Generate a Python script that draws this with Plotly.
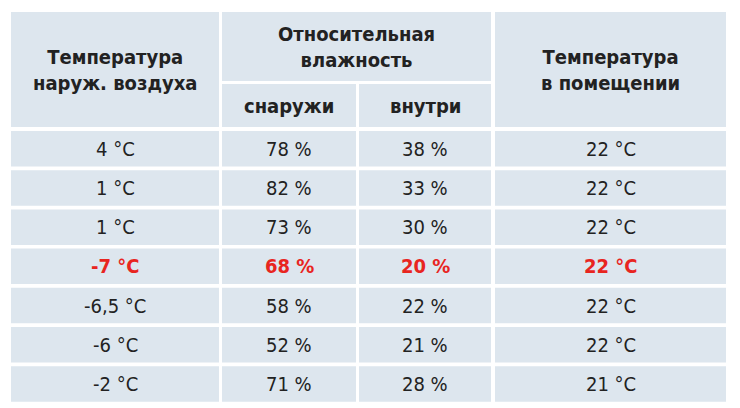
import plotly.graph_objects as go

# table values
outside_temp = ["4 °C", "1 °C", "1 °C", "-7 °C", "-6,5 °C", "-6 °C", "-2 °C"]
rh_outside = ["78 %", "82 %", "73 %", "68 %", "58 %", "52 %", "71 %"]
rh_inside = ["38 %", "33 %", "30 %", "20 %", "22 %", "21 %", "28 %"]
room_temp = ["22 °C", "22 °C", "22 °C", "22 °C", "22 °C", "22 °C", "21 °C"]
highlight_row = 3

head_outside = "Температура<br>наруж. воздуха"
head_rh = "Относительная<br>влажность"
head_rh_sub = ["снаружи", "внутри"]
head_room = "Температура<br>в помещении"

FONT = "DejaVu Sans Condensed, Roboto, sans-serif"
CELL = "#dde6ee"
cols = [(11, 219), (222, 356), (359, 491), (495, 726)]
row_top, row_h, row_step = 131, 35.5, 39.2

fig = go.Figure()
shapes, ann = [], []

def cell(x0, x1, y0, y1, text, color="#222222", bold=False, size=20):
    shapes.append(dict(type="rect", x0=x0, x1=x1, y0=y0, y1=y1,
                       fillcolor=CELL, line_width=0, layer="below"))
    ann.append(dict(x=(x0 + x1) / 2, y=(y0 + y1) / 2, text=f"<b>{text}</b>" if bold else text,
                    showarrow=False, font=dict(family=FONT, size=size, color=color)))

# header
cell(cols[0][0], cols[0][1], 12, 127, head_outside, bold=True, size=20)
cell(cols[1][0], cols[2][1], 12, 81, head_rh, bold=True, size=20)
cell(cols[1][0], cols[1][1], 84, 127, head_rh_sub[0], bold=True, size=20)
cell(cols[2][0], cols[2][1], 84, 127, head_rh_sub[1], bold=True, size=20)
cell(cols[3][0], cols[3][1], 12, 127, head_room, bold=True, size=20)

for i, row in enumerate(zip(outside_temp, rh_outside, rh_inside, room_temp)):
    y0 = row_top + i * row_step
    hl = i == highlight_row
    for (x0, x1), txt in zip(cols, row):
        cell(x0, x1, y0, y0 + row_h, txt, color="#e8251f" if hl else "#222222", bold=hl)

# page body has an 8px margin, so shift the axis ranges to keep pixel positions
fig.update_layout(
    width=740, height=408, margin=dict(l=0, r=0, t=0, b=0),
    paper_bgcolor="white", plot_bgcolor="white",
    xaxis=dict(range=[8, 748], visible=False, fixedrange=True),
    yaxis=dict(range=[416, 8], visible=False, fixedrange=True),
    shapes=shapes, annotations=ann, showlegend=False,
)

fig.write_html("out.html")
